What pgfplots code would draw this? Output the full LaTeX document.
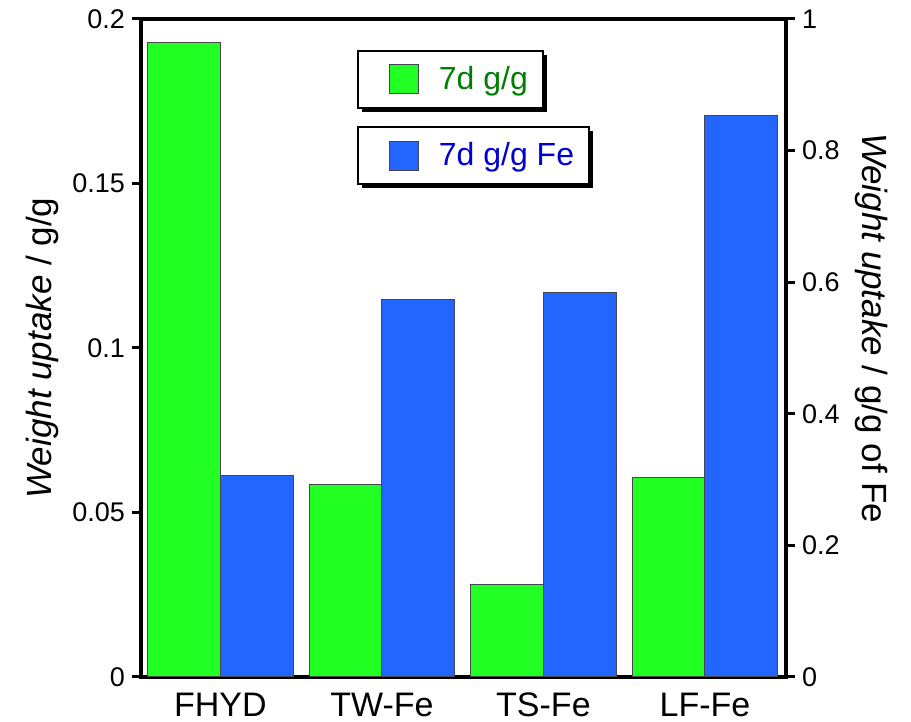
\documentclass[border=0pt]{standalone}
\usepackage{fontspec}
\setmainfont{Liberation Sans}
\usepackage{pgfplots}
\pgfplotsset{compat=1.18}
\usetikzlibrary{shadows}
\makeatletter
\tikzset{nopre/.code={\let\tikz@preactions\pgfutil@empty}}
\makeatother
\definecolor{barG}{RGB}{34,255,34}
\definecolor{barB}{RGB}{34,102,255}
\definecolor{txtG}{RGB}{0,128,0}
\definecolor{txtB}{RGB}{0,0,210}
\definecolor{edge}{RGB}{70,70,80}
\begin{document}
\begin{tikzpicture}
\path[use as bounding box] (-70.5pt,-22.5pt) rectangle (385pt,338.5pt);
\pgfplotsset{
  common/.style={
    scale only axis, width=322.5pt, height=329pt,
    xmin=-0.492, xmax=3.502, ymin=0,
    axis line style={line width=2pt},
    tick style={line width=1.5pt, black},
    major tick length=4.5pt,
    tick align=outside,
    /pgf/number format/assume math mode=true,
    /pgf/number format/fixed,
    yticklabel style={font=\fontsize{13.5}{13.5}\selectfont},
    legend cell align=left,
    legend style={draw=black, line width=0.8pt, fill=white,
      inner xsep=7.5pt, inner ysep=6.75pt, nodes={inner sep=0pt},
      drop shadow={shadow xshift=2pt, shadow yshift=-2pt, fill=black, opacity=1},
      font=\fontsize{16}{16}\selectfont,
      /tikz/every odd column/.append style={column sep=10pt}},
  },
  sq/.style={legend image code/.code={\path[nopre] (0pt,0pt); \draw[nopre,##1] (8pt,-7.25pt) rectangle (22.5pt,7.25pt);}},
}
\begin{axis}[common,
  ymax=0.2, ytick={0,0.05,0.1,0.15,0.2}, ytick pos=left,
  yticklabel style={/pgf/number format/precision=2},
  xtick={0,1,2,3}, xticklabels={FHYD,TW-Fe,TS-Fe,LF-Fe},
  xtick style={draw=none},
  xticklabel style={font=\fontsize{17}{17}\selectfont},
  ylabel={\textit{Weight uptake} / g/g},
  every axis y label/.style={at={(axis description cs:-0.1535,0.5)}, rotate=90, anchor=center, font=\fontsize{17.5}{17.5}\selectfont},
  legend style={at={(axis description cs:0.335,0.953)}, anchor=north west, text=txtG},
]
\addplot[ybar, bar width=0.45, bar shift=-0.225, fill=barG, draw=edge, line width=0.5pt, sq]
  coordinates {(0,0.193) (1,0.0584) (2,0.028) (3,0.0605)};
\addlegendentry{7d g/g}
\end{axis}
\begin{axis}[common,
  ymax=1, ytick={0,0.2,0.4,0.6,0.8,1},
  axis x line=none, axis y line*=right,
  tick align=outside,
  axis line style={line width=2pt,-},
  yticklabel style={/pgf/number format/precision=1},
  ylabel={\textit{Weight uptake} / g/g of Fe},
  every axis y label/.style={at={(axis description cs:1.133,0.53)}, rotate=-90, anchor=center, font=\fontsize{17.5}{17.5}\selectfont},
  legend style={at={(axis description cs:0.335,0.837)}, anchor=north west, text=txtB},
]
\addplot[ybar, bar width=0.45, bar shift=0.225, fill=barB, draw=edge, line width=0.5pt, sq]
  coordinates {(0,0.3055) (1,0.573) (2,0.5836) (3,0.8526)};
\addlegendentry{7d g/g Fe}
\end{axis}
\end{tikzpicture}
\end{document}
